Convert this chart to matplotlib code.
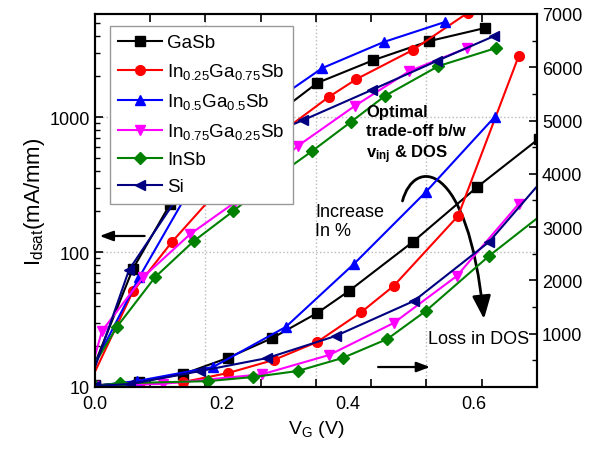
import matplotlib
matplotlib.use("Agg")
import matplotlib.pyplot as plt
import numpy as np
from matplotlib.patches import FancyArrowPatch
from matplotlib.path import Path
from matplotlib.ticker import FixedLocator, NullFormatter

plt.rcParams['font.family'] = ['Liberation Sans', 'DejaVu Sans']
plt.rcParams['mathtext.fontset'] = 'custom'
plt.rcParams['mathtext.rm'] = 'Liberation Sans'
plt.rcParams['mathtext.it'] = 'Liberation Sans:italic'
plt.rcParams['mathtext.bf'] = 'Liberation Sans:bold'

# --- data: Idsat on log scale (left axis) ---
gasb_log_v = [0, 0.060, 0.119, 0.186, 0.254, 0.352, 0.441, 0.529, 0.617]
gasb_log_i = [15, 75, 227, 420, 800, 1790, 2640, 3650, 4560]
in25_log_v = [0, 0.060, 0.122, 0.190, 0.270, 0.370, 0.414, 0.503, 0.590]
in25_log_i = [13, 51, 119, 270, 630, 1406, 1910, 3134, 5900]
in50_log_v = [0, 0.070, 0.167, 0.263, 0.360, 0.457, 0.554]
in50_log_i = [15, 65, 400, 1120, 2306, 3593, 5056]
in75_log_v = [0, 0.011, 0.076, 0.151, 0.222, 0.321, 0.411, 0.498, 0.589]
in75_log_i = [17, 26, 65, 136, 234, 610, 1205, 2191, 3245]
insb_log_v = [0, 0.035, 0.095, 0.156, 0.219, 0.281, 0.344, 0.405, 0.459, 0.544, 0.635]
insb_log_i = [15, 28, 65, 120, 201, 345, 560, 918, 1431, 2387, 3244]
si_log_v = [0, 0.054, 0.143, 0.238, 0.330, 0.438, 0.541, 0.632]
si_log_i = [14, 74, 310, 630, 950, 1585, 2600, 3980]

# --- data: Idsat on linear scale (right axis) ---
gasb_lin_v = [0, 0.070, 0.140, 0.210, 0.281, 0.352, 0.402, 0.503, 0.605, 0.703]
gasb_lin_i = [30, 100, 244, 544, 920, 1389, 1800, 2720, 3750, 4660]
in25_lin_v = [0, 0.070, 0.140, 0.211, 0.283, 0.352, 0.422, 0.473, 0.575, 0.671]
in25_lin_i = [20, 50, 94, 263, 507, 845, 1408, 1896, 3210, 6210]
in50_lin_v = [0, 0.067, 0.187, 0.302, 0.410, 0.524, 0.633]
in50_lin_i = [20, 113, 375, 1126, 2309, 3660, 5068]
in75_lin_v = [0, 0.108, 0.265, 0.371, 0.473, 0.573, 0.671]
in75_lin_i = [20, 60, 240, 601, 1201, 2083, 3435]
insb_lin_v = [0, 0.040, 0.179, 0.251, 0.321, 0.392, 0.463, 0.524, 0.624, 0.72]
insb_lin_i = [20, 70, 110, 188, 300, 544, 901, 1427, 2459, 3350]
si_lin_v = [0, 0.056, 0.167, 0.273, 0.381, 0.505, 0.624, 0.72]
si_lin_i = [20, 56, 300, 544, 957, 1614, 2722, 4040]

labels = ['GaSb', r'In$_{0.25}$Ga$_{0.75}$Sb', r'In$_{0.5}$Ga$_{0.5}$Sb',
          r'In$_{0.75}$Ga$_{0.25}$Sb', 'InSb', 'Si']
colors = ['black', '#ff0000', '#0000ff', '#ff00ff', '#008000', '#000080']
markers = ['s', 'o', '^', 'v', 'D', '<']

log_sets = [(gasb_log_v, gasb_log_i), (in25_log_v, in25_log_i), (in50_log_v, in50_log_i),
            (in75_log_v, in75_log_i), (insb_log_v, insb_log_i), (si_log_v, si_log_i)]
lin_sets = [(gasb_lin_v, gasb_lin_i), (in25_lin_v, in25_lin_i), (in50_lin_v, in50_lin_i),
            (in75_lin_v, in75_lin_i), (insb_lin_v, insb_lin_i), (si_lin_v, si_lin_i)]

fig = plt.figure(figsize=(6.06, 4.56), dpi=100)
ax = fig.add_axes([95/606, 68/456, 442/606, 373/456])
ax2 = ax.twinx()

for (v, i), lab, c, m in zip(log_sets, labels, colors, markers):
    ms = 7 if m != 'D' else 6
    ax.plot(v, i, color=c, marker=m, ms=ms, lw=1.5, label=lab, markevery=slice(1, None))
for (v, i), c, m in zip(lin_sets, colors, markers):
    ms = 7 if m != 'D' else 6
    ax2.plot(v, i, color=c, marker=m, ms=ms, lw=1.5)

ax.set_yscale('log')
ax.set_xlim(0, 0.7)
ax.set_ylim(10, 5800)
ax2.set_ylim(0, 7000)

# x ticks: labels on one scale, tick marks on another (as in the original)
ax.set_xticks([0, 0.2, 0.4, 0.6])
ax.set_xticklabels(['0.0', '0.2', '0.4', '0.6'])
ax.xaxis.set_minor_locator(FixedLocator([0.0875 * k for k in range(1, 8)]))
ax.tick_params(axis='x', which='major', length=0, labelsize=13, pad=6)
ax.tick_params(axis='x', which='minor', direction='in', length=6, width=1.2, top=True)

ax.yaxis.set_major_locator(FixedLocator([10, 100, 1000]))
ax.set_yticklabels(['10', '100', '1000'])
ax.yaxis.set_minor_formatter(NullFormatter())
ax.tick_params(axis='y', which='major', direction='in', length=6, width=1.2, labelsize=13)
ax.tick_params(axis='y', which='minor', direction='in', length=3.5, width=1)

ax2.set_yticks([1000, 2000, 3000, 4000, 5000, 6000, 7000])
ax2.yaxis.set_minor_locator(FixedLocator(np.arange(500, 7000, 1000)))
ax2.tick_params(axis='y', which='major', direction='in', length=6, width=1.2, labelsize=13)
ax2.tick_params(axis='y', which='minor', direction='in', length=3.5, width=1)

for a in (ax, ax2):
    for s in a.spines.values():
        s.set_linewidth(1.5)

# dotted grid
for gx in [0.175, 0.35, 0.525]:
    ax.axvline(gx, color='#bbbbbb', ls=':', lw=1, zorder=0)
for gy in [100, 1000]:
    ax.axhline(gy, color='#bbbbbb', ls=':', lw=1, zorder=0)

ax.set_xlabel(r'V$_{\mathregular{G}}$ (V)', fontsize=14, labelpad=4)
ax.set_ylabel(r'I$_{\mathregular{dsat}}$(mA/mm)', fontsize=16, labelpad=2)

leg = ax.legend(loc='upper left', bbox_to_anchor=(0.034, 0.968), borderaxespad=0,
                fontsize=13.5, handlelength=2.3, labelspacing=0.53, handletextpad=0.3,
                borderpad=0.45, fancybox=False, framealpha=1, edgecolor='#999999')
leg.get_frame().set_linewidth(1)

# annotations
ax2.annotate('', xy=(0.003, 2834), xytext=(0.083, 2834),
             arrowprops=dict(arrowstyle='-|>,head_length=0.8,head_width=0.3', color='k', lw=1.6))
ax2.annotate('', xy=(0.535, 375), xytext=(0.444, 375),
             arrowprops=dict(arrowstyle='-|>,head_length=0.8,head_width=0.3', color='k', lw=1.6))

arc = Path([(0.487, 3491), (0.505, 4300), (0.590, 4300), (0.616, 1276)],
           [Path.MOVETO, Path.CURVE4, Path.CURVE4, Path.CURVE4])
ax2.add_patch(FancyArrowPatch(path=arc, arrowstyle='-|>,head_length=1.0,head_width=0.4',
                              mutation_scale=14, color='k', lw=2, transform=ax2.transData))

ax2.text(0.349, 3116, 'Increase\nIn %', fontsize=13, ha='left', va='center', linespacing=1.2)
ax2.text(0.527, 901, 'Loss in DOS', fontsize=13, ha='left', va='center')
ax2.text(0.429, 5312, 'Optimal\ntrade-off b/w\n' + r'v$_{\mathregular{inj}}$ & DOS',
         fontsize=12, fontweight='bold', ha='left', va='top', linespacing=1.3)

fig.savefig('out.png', dpi=100)
